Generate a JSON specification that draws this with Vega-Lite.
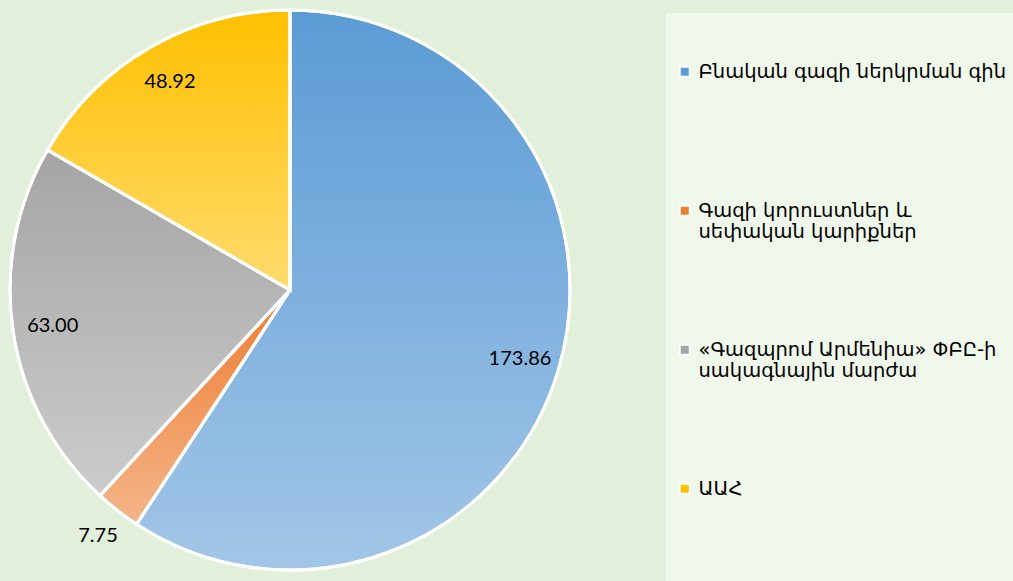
{
  "$schema": "https://vega.github.io/schema/vega-lite/v6.json",
  "width": 580,
  "height": 580,
  "autosize": {"type": "none"},
  "padding": {"left": 0, "top": 0, "right": 433, "bottom": 1},
  "background": "#e2efda",
  "config": {
    "view": {"stroke": null},
    "legend": {
      "fillColor": "#f0f7eb",
      "padding": 9,
      "labelFont": "DejaVu Sans",
      "labelFontSize": 19.5,
      "labelColor": "#000000",
      "labelLimit": 500,
      "symbolType": "square",
      "symbolSize": 100,
      "symbolStrokeColor": "#ffffff",
      "symbolStrokeWidth": 2,
      "rowPadding": 97,
      "titleFontSize": 10,
      "titlePadding": 30
    }
  },
  "data": {
    "values": [
      {"idx": 1, "category": "Բնական գազի ներկրման գին", "value": 173.86},
      {"idx": 2, "category": "Գազի կորուստներ և սեփական կարիքներ", "value": 7.75},
      {"idx": 3, "category": "«Գազպրոմ Արմենիա» ՓԲԸ-ի սակագնային մարժա", "value": 63.00},
      {"idx": 4, "category": "ԱԱՀ", "value": 48.92}
    ]
  },
  "encoding": {
    "theta": {"field": "value", "type": "quantitative", "stack": true},
    "order": {"field": "idx", "type": "quantitative"}
  },
  "layer": [
    {
      "mark": {"type": "arc", "outerRadius": 280, "stroke": "#ffffff", "strokeWidth": 3},
      "encoding": {
        "color": {
          "field": "category",
          "type": "nominal",
          "sort": null,
          "scale": {
            "domain": ["Բնական գազի ներկրման գին", "Գազի կորուստներ և սեփական կարիքներ", "«Գազպրոմ Արմենիա» ՓԲԸ-ի սակագնային մարժա", "ԱԱՀ"],
            "range": ["#5b9bd5", "#ed7d31", "#a5a5a5", "#ffc000"]
          },
          "legend": {
            "title": " ",
            "orient": "none",
            "legendX": 666,
            "legendY": 13,
            "labelExpr": "datum.label == 'Գազի կորուստներ և սեփական կարիքներ' ? ['Գազի կորուստներ և', 'սեփական կարիքներ'] : datum.label == '«Գազպրոմ Արմենիա» ՓԲԸ-ի սակագնային մարժա' ? ['«Գազպրոմ Արմենիա» ՓԲԸ-ի', 'սակագնային մարժա'] : datum.label == 'ԱԱՀ' ? ['ԱԱՀ', ' ', ' ', ' ', ' '] : [datum.label, ' ']"
          }
        }
      }
    },
    {
      "mark": {
        "type": "arc",
        "outerRadius": 280,
        "stroke": "#ffffff",
        "strokeWidth": 3,
        "fill": {"gradient": "linear", "x1": 0, "y1": 0, "x2": 0, "y2": 1, "stops": [{"offset": 0, "color": "rgba(255,255,255,0)"}, {"offset": 1, "color": "rgba(255,255,255,0.43)"}]}
      }
    },
    {
      "mark": {"type": "text", "font": "Lato", "fontSize": 20, "color": "#000000", "radius": 240},
      "encoding": {
        "opacity": {"condition": {"test": "datum.value < 10", "value": 0}, "value": 1},
        "text": {"field": "value", "type": "quantitative", "format": ".2f"}
      }
    },
    {
      "mark": {"type": "text", "font": "Lato", "fontSize": 20, "color": "#000000", "radius": 312},
      "encoding": {
        "opacity": {"condition": {"test": "datum.value < 10", "value": 1}, "value": 0},
        "text": {"field": "value", "type": "quantitative", "format": ".2f"}
      }
    }
  ]
}
